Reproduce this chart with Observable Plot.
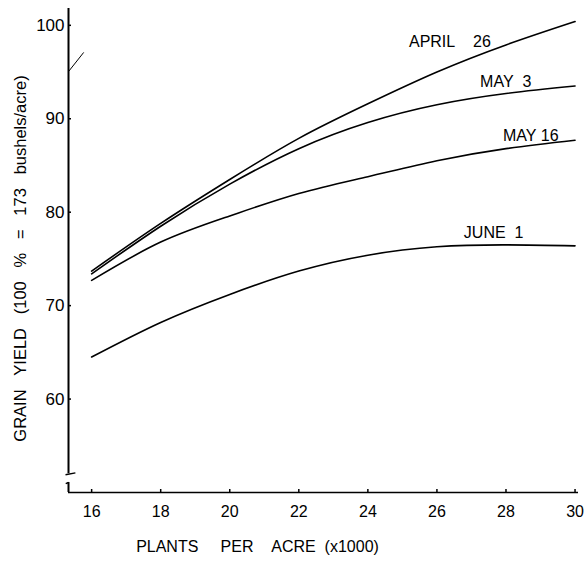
<!DOCTYPE html>
<html><head><meta charset="utf-8">
<script src="https://cdn.jsdelivr.net/npm/d3@7"></script>
<script src="https://cdn.jsdelivr.net/npm/@observablehq/plot@0.6"></script>
<style>body{margin:0;background:#fff}</style>
</head><body><div id="chart"></div>
<script>
// Data
const plantsPerAcre = [16, 18, 20, 22, 24, 26, 28, 30];
const april26 = [73.7, 78.8, 83.5, 87.9, 91.6, 95.0, 97.9, 100.4];
const may3    = [73.4, 78.5, 83.0, 86.8, 89.6, 91.5, 92.7, 93.5];
const may16   = [72.7, 76.8, 79.6, 82.0, 83.8, 85.5, 86.8, 87.7];
const june1   = [64.5, 68.2, 71.2, 73.7, 75.4, 76.3, 76.5, 76.4];
const seriesNames = ["APRIL\u00a0\u00a0\u00a0\u00a026", "MAY\u00a0\u00a03", "MAY\u00a016", "JUNE\u00a0\u00a01"];
const xTicks = [16, 18, 20, 22, 24, 26, 28, 30];
const yTicks = [60, 70, 80, 90, 100];
const xTitle = "PLANTS\u00a0\u00a0\u00a0\u00a0\u00a0PER\u00a0\u00a0\u00a0\u00a0ACRE\u00a0\u00a0(x1000)";
const yTitle = "GRAIN\u00a0\u00a0\u00a0YIELD\u00a0\u00a0\u00a0(100\u00a0\u00a0\u00a0%\u00a0\u00a0\u00a0=\u00a0\u00a0\u00a0173\u00a0\u00a0\u00a0bushels/acre)";

// Chart build
const seriesValues = [april26, may3, may16, june1];
const rows = seriesValues.flatMap((vals, i) =>
  vals.map((v, j) => ({x: plantsPerAcre[j], y: v, series: seriesNames[i]})));

const xDomain = [15.33, 30.1];
const yDomain = [50, 101.8];
const yBreakHi = 52.0, yBreakLo = 51.07;
// label anchors in data units (start of text)
const labelPos = [
  {name: seriesNames[0], x: 25.19, y: 98.2},
  {name: seriesNames[1], x: 27.25, y: 94.0},
  {name: seriesNames[2], x: 27.91, y: 88.2},
  {name: seriesNames[3], x: 26.78, y: 77.75}
];

const W = 588, H = 565, mL = 68, mR = 10, mT = 8, mB = 73;

const chart = Plot.plot({
  width: W, height: H,
  marginLeft: mL, marginRight: mR, marginTop: mT, marginBottom: mB,
  x: {domain: xDomain},
  y: {domain: yDomain},
  style: {fontFamily: "'Liberation Sans', Arial, sans-serif", color: "black", background: "white", fontSize: "16px"},
  marks: [
    // broken y axis
    Plot.ruleX([xDomain[0]], {y1: yBreakHi, y2: yDomain[1], strokeWidth: 2}),
    Plot.ruleX([xDomain[0]], {y1: yDomain[0], y2: yBreakLo, strokeWidth: 2}),
    Plot.link([{x1: 15.243, y1: 51.9, x2: 15.53, y2: 52.1}], {x1: "x1", y1: "y1", x2: "x2", y2: "y2", strokeWidth: 1.5}),
    Plot.link([{x1: 15.33, y1: 51.07, x2: 15.25, y2: 50.95}], {x1: "x1", y1: "y1", x2: "x2", y2: "y2", strokeWidth: 1.5}),
    Plot.link([{x1: 15.33, y1: 95.05, x2: 15.77, y2: 97.1}], {x1: "x1", y1: "y1", x2: "x2", y2: "y2", strokeWidth: 1}),
    // x axis line
    Plot.ruleY([yDomain[0]], {x1: xDomain[0], x2: xDomain[1], strokeWidth: 1.6}),
    // ticks
    Plot.tickY(yTicks, {y: d => d, insetRight: (W - mL - mR) - 3, strokeWidth: 1.5}),
    Plot.tickX(xTicks, {x: d => d, insetTop: (H - mT - mB) - 3, strokeWidth: 1.5}),
    Plot.axisY({ticks: yTicks, tickSize: 0, tickPadding: 4, fontSize: 17, label: null}),
    Plot.axisX({ticks: xTicks, tickSize: 0, tickPadding: 13, fontSize: 16, label: null}),
    // curves
    Plot.line(rows, {x: "x", y: "y", z: "series", stroke: "black", strokeWidth: 1.6, curve: "natural"}),
    // series labels
    Plot.text(labelPos, {x: "x", y: "y", text: "name", textAnchor: "start", fontSize: 16}),
    // titles
    Plot.text([xTitle], {frameAnchor: "bottom", textAnchor: "middle", dx: -66, dy: 59, fontSize: 16}),
    Plot.text([yTitle], {frameAnchor: "left", textAnchor: "middle", dx: -48, dy: 8, rotate: -90, fontSize: 16.5})
  ]
});
document.getElementById("chart").append(chart);
</script>
</body></html>
